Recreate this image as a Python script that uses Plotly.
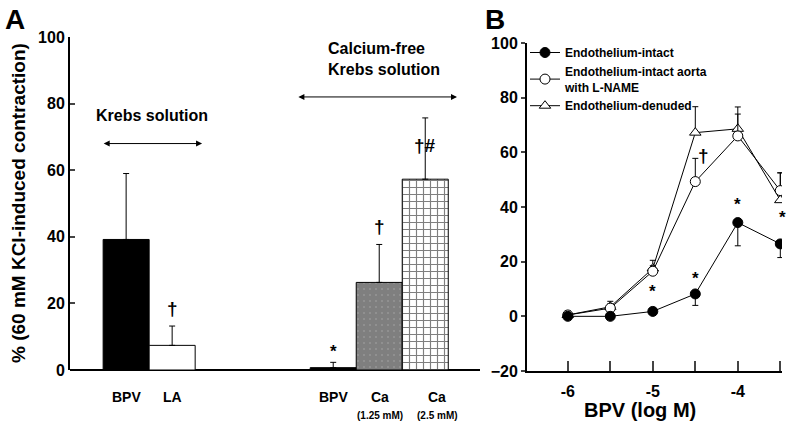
import plotly.graph_objects as go

FONT = "Liberation Sans, Arial, sans-serif"

# Panel A: bars
a_labels = ["BPV", "LA", "BPV", "Ca", "Ca"]
a_sublabels = ["", "", "", "(1.25 mM)", "(2.5 mM)"]
a_pos = [1.22, 2.22, 5.72, 6.72, 7.72]
a_label_pos = [1.22, 2.22, 5.72, 6.74, 7.98]
a_values = [39.2, 7.4, 0.7, 26.3, 57.3]
a_errors = [19.8, 5.8, 1.6, 11.4, 18.4]
a_marks = ["", "†", "*", "†", "†#"]
a_mark_y = [0, 18.5, 5.5, 43, 67.5]

# Panel B: concentration-response
b_logm = [-6, -5.5, -5, -4.5, -4, -3.5]
b_intact = [0, 0, 1.8, 8.2, 34.3, 26.5]
b_intact_err = [0.5, 0.5, 0.8, 4.2, 8.5, 5.0]
b_lname = [0.5, 3.0, 16.5, 49.3, 66.0, 46.0]
b_lname_err = [0.8, 1.5, 2.0, 8.5, 8.0, 6.5]
b_denuded = [0.5, 3.5, 17.5, 67.2, 68.6, 42.5]
b_denuded_err = [1.5, 2.0, 3.0, 9.5, 8.0, 10.0]
b_marks = ["*", "*", "†", "*", "*"]
b_mark_x = [-5.0, -4.5, -4.4, -4.0, -3.48]
b_mark_y = [9.0, 14.0, 59.0, 41.0, 36.0]

W, H = 787, 430

fig = go.Figure()

patterns = [
    dict(shape=""),
    dict(shape=""),
    dict(shape=""),
    dict(shape=".", fgcolor="black", bgcolor="white", size=6, solidity=0.9),
    dict(shape="+", fgcolor="black", bgcolor="white", size=7, solidity=0.3),
]
colors = ["black", "white", "black", "white", "white"]
for i in range(len(a_values)):
    fig.add_trace(go.Bar(
        x=[a_pos[i]], y=[a_values[i]], width=1.0,
        marker=dict(color=colors[i], line=dict(color="black", width=1), pattern=patterns[i]),
        error_y=dict(type="data", array=[a_errors[i]], arrayminus=[0], symmetric=False,
                     color="black", thickness=1, width=3),
        xaxis="x", yaxis="y", showlegend=False, hoverinfo="skip",
    ))

fig.add_trace(go.Scatter(
    x=b_logm, y=b_denuded, mode="lines+markers", name="Endothelium-denuded",
    line=dict(color="black", width=1),
    marker=dict(symbol="triangle-up", size=10, color="white", line=dict(color="black", width=1)),
    error_y=dict(type="data", array=b_denuded_err, arrayminus=[0] * 6, symmetric=False,
                 color="black", thickness=1, width=3),
    xaxis="x2", yaxis="y2", legendrank=3,
))
fig.add_trace(go.Scatter(
    x=b_logm, y=b_lname, mode="lines+markers", name="Endothelium-intact aorta<br>with L-NAME",
    line=dict(color="black", width=1),
    marker=dict(symbol="circle", size=10, color="white", line=dict(color="black", width=1)),
    error_y=dict(type="data", array=b_lname_err, arrayminus=[0] * 6, symmetric=False,
                 color="black", thickness=1, width=3),
    xaxis="x2", yaxis="y2", legendrank=2,
))
fig.add_trace(go.Scatter(
    x=b_logm, y=b_intact, mode="lines+markers", name="Endothelium-intact",
    line=dict(color="black", width=1),
    marker=dict(symbol="circle", size=10, color="black", line=dict(color="black", width=1)),
    error_y=dict(type="data", array=[0] * 6, arrayminus=b_intact_err, symmetric=False,
                 color="black", thickness=1, width=3),
    xaxis="x2", yaxis="y2", legendrank=1,
))


def px(x, y):
    # pixel position (from top-left) -> paper fraction
    return x / W, 1 - y / H


def mark(x, y, text, xref, yref, size=17):
    return dict(x=x, y=y, xref=xref, yref=yref, text=text, showarrow=False,
                xanchor="center", yanchor="middle", font=dict(size=size, color="black"))


ann = []
for x, m, y in zip(a_pos, a_marks, a_mark_y):
    if m:
        ann.append(mark(x, y, m, "x", "y", 19 if "†" in m else 17))
for x, lab, sub in zip(a_label_pos, a_labels, a_sublabels):
    ann.append(mark(x, px(0, 397)[1], lab, "x", "paper", 14))
    if sub:
        ann.append(mark(x, px(0, 415)[1], sub, "x", "paper", 10))

ann.append(mark(1.78, 76.5, "Krebs solution", "x", "y", 16))
ann.append(dict(mark(6.83, 93.5, "Calcium-free<br>Krebs solution", "x", "y", 16), align="left"))
for xa, xb, ya in [(0.7, 2.87, 68), (4.93, 8.41, 82)]:
    ann.append(dict(x=xb, y=ya, ax=xa, ay=ya, xref="x", yref="y", axref="x", ayref="y", text="",
                    showarrow=True, arrowside="end+start", arrowhead=2, arrowsize=1.2,
                    arrowwidth=1, arrowcolor="black"))

x0, y0 = px(18, 203)
ann.append(dict(mark(x0, y0, "% (60 mM KCl-induced contraction)", "paper", "paper", 19),
                textangle=-90))
x0, y0 = px(3, 2)
ann.append(dict(mark(x0, y0, "A", "paper", "paper", 28), xanchor="left", yanchor="top"))
x0, y0 = px(483, 2)
ann.append(dict(mark(x0, y0, "B", "paper", "paper", 28), xanchor="left", yanchor="top"))
x0, y0 = px(640, 410)
ann.append(mark(x0, y0, "BPV (log M)", "paper", "paper", 20))
for x, m, y in zip(b_mark_x, b_marks, b_mark_y):
    ann.append(mark(x, y, m, "x2", "y2", 19 if m == "†" else 17))

lx, ly = px(525, 38)
fig.update_layout(
    width=W, height=H,
    margin=dict(l=0, r=0, t=0, b=0, autoexpand=False),
    paper_bgcolor="white", plot_bgcolor="white",
    font=dict(family=FONT, color="black", weight="bold"),
    barmode="overlay",
    annotations=ann,
    xaxis=dict(domain=[70 / W, 480 / W], range=[0, 8.91], showticklabels=False,
               ticks="", showgrid=False, zeroline=False, showline=False, fixedrange=True),
    yaxis=dict(domain=[60 / H, 393 / H], range=[0, 100], tickvals=[0, 20, 40, 60, 80, 100],
               ticks="inside", ticklen=5, tickwidth=2, showline=True, linewidth=2, linecolor="black",
               showgrid=False, zeroline=True, zerolinewidth=2, zerolinecolor="black",
               tickfont=dict(size=16), anchor="x"),
    xaxis2=dict(domain=[527 / W, 782 / W], range=[-6.48, -3.48],
                tickvals=[-6, -5.5, -5, -4.5, -4, -3.5], ticktext=["-6", "", "-5", "", "-4", ""],
                ticks="inside", ticklen=10, tickwidth=2, showline=True, linewidth=2,
                linecolor="black", showgrid=False, zeroline=False, tickfont=dict(size=16),
                ticklabelstandoff=5, anchor="y2"),
    yaxis2=dict(domain=[59 / H, 387 / H], range=[-20, 100],
                tickvals=[-20, 0, 20, 40, 60, 80, 100], ticks="outside", ticklen=4, tickwidth=2,
                showline=True, linewidth=2, linecolor="black", showgrid=False, zeroline=False,
                tickfont=dict(size=16), anchor="x2"),
    legend=dict(x=lx, y=ly, xanchor="left", yanchor="top",
                bgcolor="rgba(0,0,0,0)", font=dict(size=12), itemwidth=30,
                tracegroupgap=2),
)

# the page's default body margin would shift the figure by 8px
fig.write_html("out.html", config={"displayModeBar": False},
               post_script="document.body.style.margin = '0';")
